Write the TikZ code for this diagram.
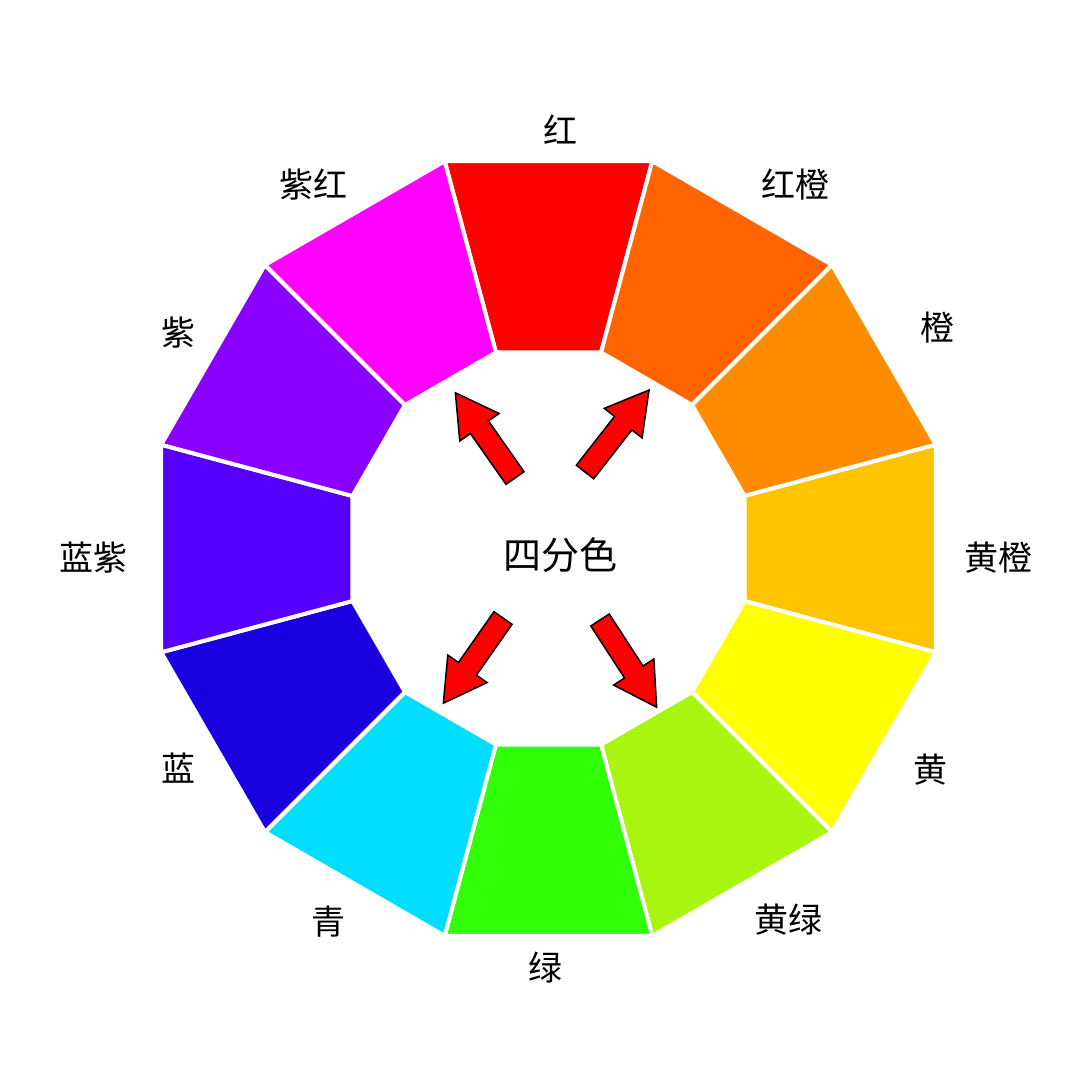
\documentclass[tikz,border=0pt]{standalone}
\usepackage{fontspec}
\usetikzlibrary{calc}
\newfontfamily\cjk{Noto Sans CJK SC}
\begin{document}
\begin{tikzpicture}[x=1pt,y=1pt,
  lab/.style={font=\cjk\fontsize{34}{40}\selectfont,text=black},
  seg/.style={draw=white,line width=4pt,line join=miter},
  redarrow/.style={fill=red,draw=black,line width=1.5pt,line join=miter}]
\fill[white] (0,0) rectangle (1080,-1080);
\useasboundingbox (0,0) rectangle (1080,-1080);
\coordinate (c) at (548.5,-548.5);
\foreach \ang/\col in {90/FF0000,60/FF6400,30/FF8C00,0/FFC400,-30/FFFF00,-60/A8F510,-90/30FF08,-120/00DDFF,-150/1A00E0,180/5500FF,150/8A00FF,120/FF00FF}{
  \definecolor{sc}{HTML}{\col}
  \fill[sc,seg] ($(c)+(\ang-15:401)$) -- ($(c)+(\ang+15:401)$) -- ($(c)+(\ang+15:203)$) -- ($(c)+(\ang-15:203)$) -- cycle;
}
\node[lab] (l1) at (560,-130) {红};
\node[lab] (l2) at (795,-185) {红橙};
\node[lab] (l3) at (937,-328) {橙};
\node[lab] (l4) at (998,-558) {黄橙};
\node[lab] (l5) at (930,-770) {黄};
\node[lab] (l6) at (788,-920) {黄绿};
\node[lab] (l7) at (545,-968) {绿};
\node[lab] (l8) at (328,-922) {青};
\node[lab] (l9) at (178,-768) {蓝};
\node[lab] (l10) at (93,-558) {蓝紫};
\node[lab] (l11) at (178,-333) {紫};
\node[lab] (l12) at (313,-185) {紫红};
\node[font=\cjk\fontsize{38}{44}\selectfont] (ctr) at (560,-555) {四分色};
\foreach \sx/\sy/\rot in {515/-478/125, 585/-472/52, 503/-618/-125, 600/-620/-57}{
  \begin{scope}[shift={(\sx,\sy)},rotate=\rot]
   \draw[redarrow] (0,-11) -- (62,-11) -- (62,-24) -- (104,0) -- (62,24) -- (62,11) -- (0,11) -- cycle;
  \end{scope}
}
\end{tikzpicture}
\end{document}
